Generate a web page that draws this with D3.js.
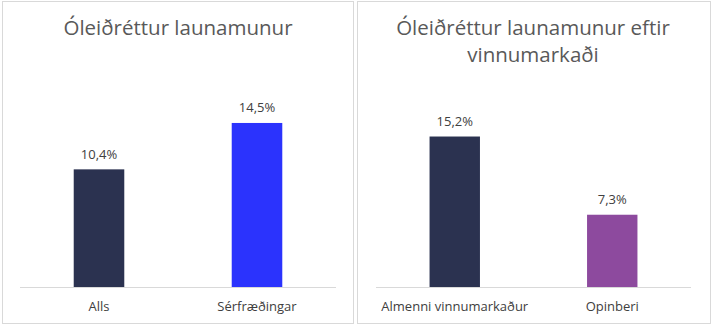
<!DOCTYPE html>
<html><head><meta charset="utf-8">
<script src="https://cdn.jsdelivr.net/npm/d3@7"></script>
<style>html,body{margin:0;padding:0;background:#fff;}svg{display:block;}</style>
</head><body>
<svg id="chart" width="713" height="327"></svg>
<script>
const title1 = ["Óleiðréttur launamunur"];
const categories1 = ["Alls", "Sérfræðingar"];
const values1 = [10.4, 14.5];
const colors1 = ["#2b3250", "#2b33fd"];

const title2 = ["Óleiðréttur launamunur eftir", "vinnumarkaði"];
const categories2 = ["Almenni vinnumarkaður", "Opinberi"];
const values2 = [15.2, 7.3];
const colors2 = ["#2b3250", "#8d4a9e"];

const FONT = "'Open Sans', 'Noto Sans', sans-serif";
const svg = d3.select("#chart");

function panel(cfg) {
  const g = svg.append("g");
  g.append("rect").attr("x", cfg.box[0] + 0.5).attr("y", cfg.box[1] + 0.5)
    .attr("width", cfg.box[2]).attr("height", cfg.box[3])
    .attr("fill", "#fff").attr("stroke", "#d9d9d9").attr("stroke-width", 1);

  const x = d3.scaleBand().domain(cfg.categories).range([cfg.plot.x0, cfg.plot.x1]).paddingInner(0.68).paddingOuter(0.34);
  const y = d3.scaleLinear().domain([0, cfg.ymax]).range([cfg.plot.y0, cfg.plot.y1]);

  const t = g.append("text").attr("x", cfg.titleX).attr("y", cfg.titleY)
    .attr("text-anchor", "middle").attr("font-family", FONT).attr("font-size", 20.5)
    .attr("fill", "#595959");
  cfg.title.forEach((line, i) => t.append("tspan").attr("x", cfg.titleX).attr("dy", i === 0 ? 0 : 27).text(line));

  const data = cfg.categories.map((c, i) => ({ c, v: cfg.values[i], col: cfg.colors[i] }));
  g.selectAll("rect.bar").data(data).join("rect").attr("class", "bar")
    .attr("x", d => x(d.c)).attr("width", x.bandwidth())
    .attr("y", d => y(d.v)).attr("height", d => y(0) - y(d.v))
    .attr("fill", d => d.col);

  g.append("line").attr("x1", cfg.plot.x0).attr("x2", cfg.plot.x1)
    .attr("y1", y(0) + 0.5).attr("y2", y(0) + 0.5).attr("stroke", "#d9d9d9").attr("stroke-width", 1);

  g.selectAll("text.val").data(data).join("text").attr("class", "val")
    .attr("x", d => x(d.c) + x.bandwidth() / 2).attr("y", d => y(d.v) - 10.5)
    .attr("text-anchor", "middle").attr("font-family", FONT).attr("font-size", 13)
    .attr("fill", "#404040").text(d => d.v.toFixed(1).replace(".", ",") + "%");

  const ax = g.append("g").attr("transform", `translate(0,${y(0)})`)
    .call(d3.axisBottom(x).tickSize(0).tickPadding(15));
  ax.select(".domain").remove();
  ax.selectAll("text").attr("font-family", FONT).attr("font-size", 13).attr("fill", "#404040");
}

panel({
  box: [2, 1, 351, 322], title: title1, titleX: 178, titleY: 35,
  categories: categories1, values: values1, colors: colors1,
  plot: { x0: 20, x1: 336, y0: 287, y1: 106 }, ymax: 16
});
panel({
  box: [357, 1, 353, 322], title: title2, titleX: 533, titleY: 35,
  categories: categories2, values: values2, colors: colors2,
  plot: { x0: 376, x1: 691, y0: 287, y1: 108.8 }, ymax: 18
});
</script>
</body></html>
